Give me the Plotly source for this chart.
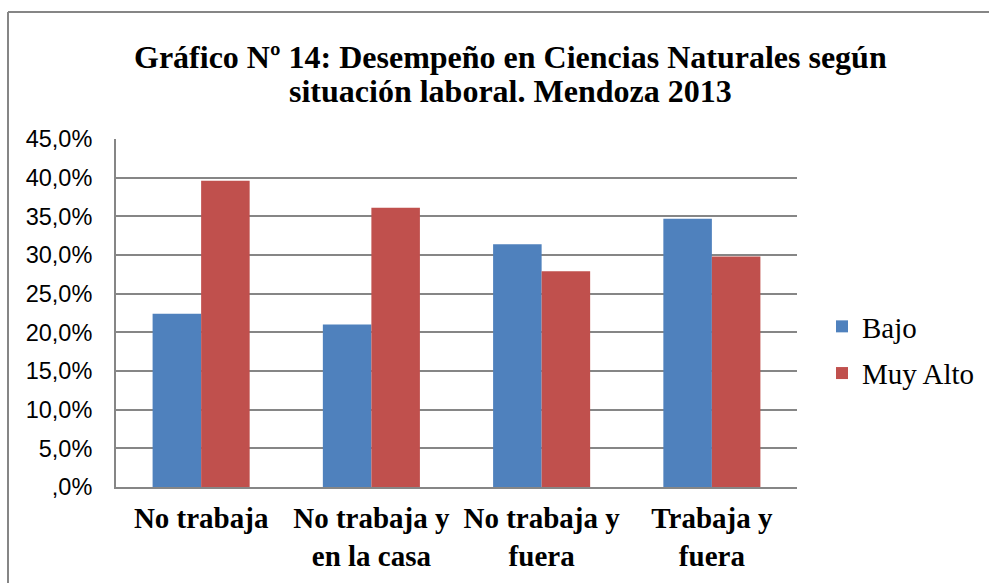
import plotly.graph_objects as go

categories = ["No trabaja", "No trabaja y<br>en la casa", "No trabaja y<br>fuera", "Trabaja y<br>fuera"]
bajo = [22.4, 21.0, 31.4, 34.7]
muy_alto = [39.6, 36.1, 27.9, 29.8]
tick_vals = [0, 5, 10, 15, 20, 25, 30, 35, 40, 45]
tick_text = [",0%", "5,0%", "10,0%", "15,0%", "20,0%", "25,0%", "30,0%", "35,0%", "40,0%", "45,0%"]
title_lines = ["Gráfico Nº 14: Desempeño en Ciencias Naturales según", "situación laboral. Mendoza 2013"]

W, H = 989, 583
ml, mr, mt, mb = 116, 192, 139, 96

fig = go.Figure()
fig.add_trace(go.Bar(name="Bajo", x=categories, y=bajo, legendgroup="a",
                     marker=dict(color="#4F81BD", line=dict(width=0))))
fig.add_trace(go.Bar(name="Muy Alto", x=categories, y=muy_alto, legendgroup="b",
                     marker=dict(color="#C0504D", line=dict(width=0))))

pw = W - ml - mr
ph = H - mt - mb
def px(x):
    return (x - ml) / pw
def py(y):
    return (H - mb - y) / ph

annotations = []
for line, yc in zip(title_lines, [57, 91]):
    annotations.append(dict(
        text="<b>" + line + "</b>", xref="paper", yref="paper",
        x=px(510.5), y=py(yc), xanchor="center", yanchor="middle", showarrow=False,
        font=dict(family="Liberation Serif", size=32, color="black"),
    ))

fig.update_layout(
    width=W, height=H,
    margin=dict(l=ml, r=mr, t=mt, b=mb),
    paper_bgcolor="white", plot_bgcolor="white",
    barmode="group", bargap=0.43, bargroupgap=0,
    font=dict(family="Liberation Serif", color="black"),
    xaxis=dict(
        showline=True, linecolor="#868686", linewidth=2,
        tickfont=dict(family="Liberation Serif", size=29, color="black", weight="bold"),
        ticks="", showgrid=False, ticklabelstandoff=4,
    ),
    yaxis=dict(
        range=[0, 45], tickvals=tick_vals, ticktext=tick_text,
        showgrid=True, gridcolor="#868686", gridwidth=2,
        showline=True, linecolor="#868686", linewidth=2,
        ticks="", ticklabelstandoff=17,
        tickfont=dict(family="Liberation Sans", size=23.5, color="black"),
        zeroline=False,
    ),
    legend=dict(
        xref="container", yref="container",
        x=822 / W, y=(H - 350) / H, xanchor="left", yanchor="middle",
        font=dict(family="Liberation Serif", size=29, color="black"),
        itemsizing="constant", tracegroupgap=6, traceorder="grouped",
        bgcolor="rgba(0,0,0,0)",
    ),
    annotations=annotations,
    shapes=[
        dict(type="line", xref="paper", yref="paper", x0=px(8), x1=px(8), y0=py(12), y1=py(583),
             line=dict(color="#868686", width=2)),
        dict(type="line", xref="paper", yref="paper", x0=px(8), x1=px(989), y0=py(12), y1=py(12),
             line=dict(color="#868686", width=2)),
    ],
)

fig.write_html("out.html", config={"displayModeBar": False},
               post_script="document.body.style.margin='0';")
